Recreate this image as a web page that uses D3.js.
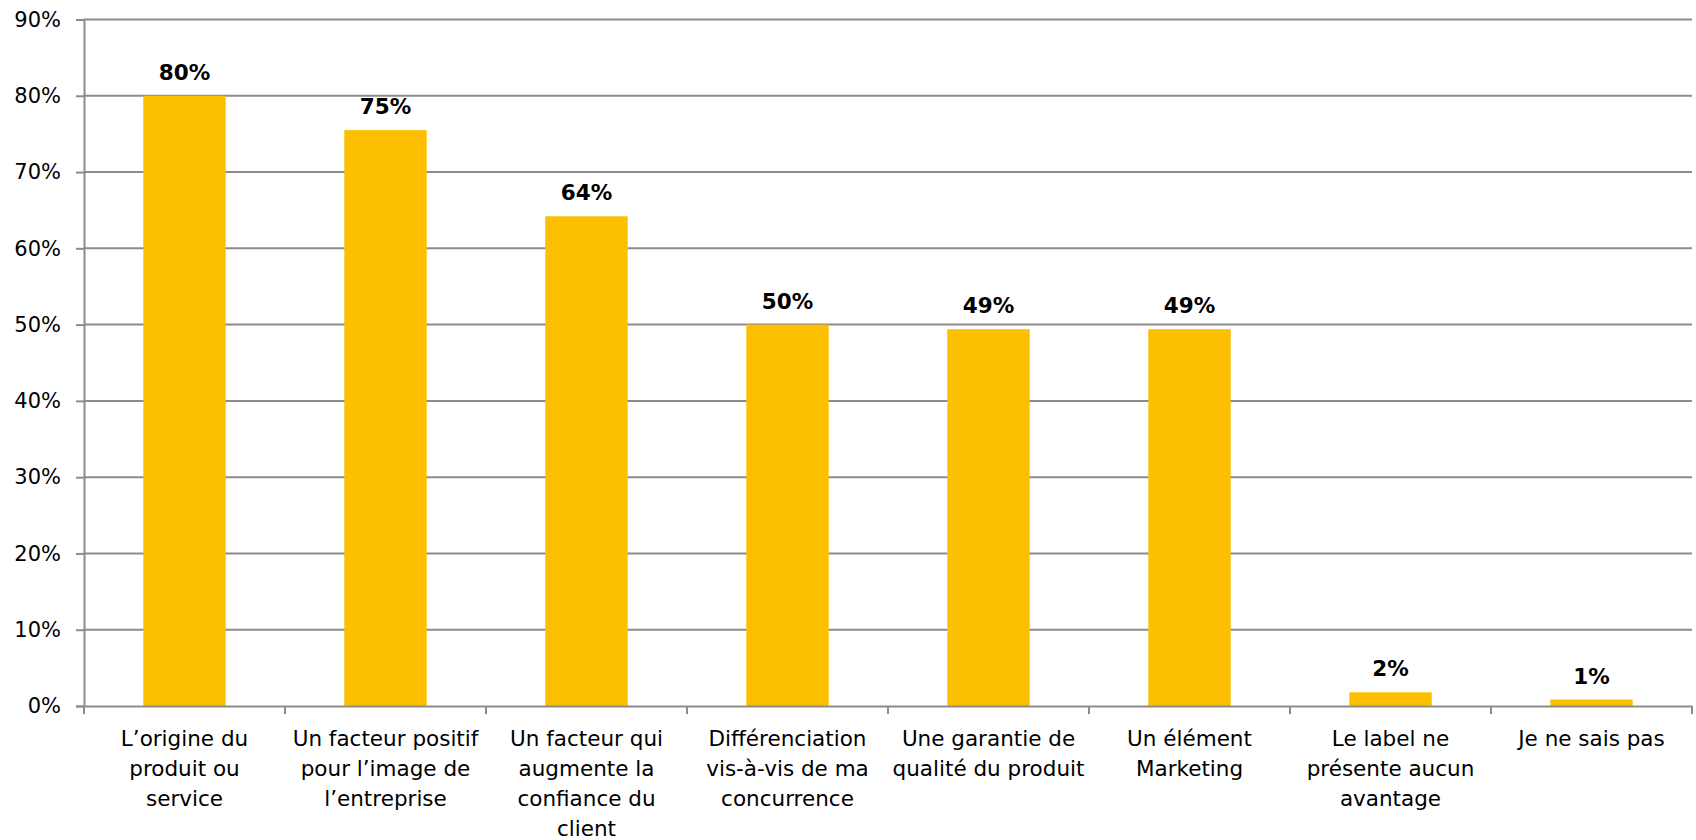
<!DOCTYPE html>
<html><head><meta charset="utf-8">
<script src="https://cdn.jsdelivr.net/npm/d3@7"></script>
<style>body{margin:0;background:#fff}svg{display:block}</style>
</head><body>
<svg id="c" width="1696" height="840"></svg>
<script>
const categories = [
  "L\u2019origine du\nproduit ou\nservice",
  "Un facteur positif\npour l\u2019image de\nl\u2019entreprise",
  "Un facteur qui\naugmente la\nconfiance du\nclient",
  "Différenciation\nvis-à-vis de ma\nconcurrence",
  "Une garantie de\nqualité du produit",
  "Un élément\nMarketing",
  "Le label ne\nprésente aucun\navantage",
  "Je ne sais pas"
];
const values = [80, 75.5, 64.2, 50, 49.4, 49.4, 1.8, 0.85];
const valueLabels = ["80%", "75%", "64%", "50%", "49%", "49%", "2%", "1%"];
const yTicks = [0, 10, 20, 30, 40, 50, 60, 70, 80, 90];

(function () {
const svg = d3.select("#c");
const mLeft = 84, mRight = 1692, mTop = 19.5, mBottom = 706;
const font = "DejaVu Sans, Verdana, sans-serif";
const x = d3.scaleBand().domain(d3.range(categories.length)).range([mLeft, mRight]).paddingInner(0.59).paddingOuter(0.295);
const xb = d3.scaleBand().domain(d3.range(categories.length)).range([mLeft, mRight]).padding(0);
const y = d3.scaleLinear().domain([0, 90]).range([mBottom, mTop]);
const grid = "#8c8c8c";

svg.append("g").selectAll("line").data(yTicks.slice(1)).join("line")
  .attr("x1", mLeft).attr("x2", mRight)
  .attr("y1", d => y(d)).attr("y2", d => y(d))
  .attr("stroke", grid).attr("stroke-width", 2);

const ya = svg.append("g").attr("transform", `translate(${mLeft},0)`)
  .call(d3.axisLeft(y).tickValues(yTicks).tickFormat(d => d + "%").tickSize(8).tickPadding(15));
ya.select(".domain").attr("stroke", grid).attr("stroke-width", 2);
ya.selectAll(".tick line").attr("stroke", grid).attr("stroke-width", 2);
ya.selectAll(".tick text").attr("font-family", font).attr("font-size", 21).attr("fill", "#000");

svg.append("g").selectAll("rect").data(values).join("rect")
  .attr("x", (d, i) => x(i)).attr("width", x.bandwidth())
  .attr("y", d => y(d)).attr("height", d => mBottom - y(d))
  .attr("fill", "#FCC000");

const xa = svg.append("g").attr("transform", `translate(0,${mBottom})`)
  .call(d3.axisBottom(xb).tickSize(0).tickFormat(""));
xa.select(".domain").attr("stroke", grid).attr("stroke-width", 2);
xa.selectAll(".tick").remove();
svg.append("g").selectAll("line").data(d3.range(categories.length + 1)).join("line")
  .attr("x1", i => mLeft + i * xb.step()).attr("x2", i => mLeft + i * xb.step())
  .attr("y1", mBottom).attr("y2", mBottom + 8)
  .attr("stroke", grid).attr("stroke-width", 2);

const cl = svg.append("g").selectAll("text").data(categories).join("text")
  .attr("x", (d, i) => xb(i) + xb.bandwidth() / 2)
  .attr("y", 747)
  .attr("text-anchor", "middle")
  .attr("font-family", font).attr("font-size", 21.5).attr("fill", "#000");
cl.each(function (d) {
  const t = d3.select(this);
  d.split("\n").forEach((line, k) => {
    t.append("tspan").attr("x", t.attr("x")).attr("y", 746 + k * 30).text(line);
  });
});

svg.append("g").selectAll("text").data(values).join("text")
  .attr("x", (d, i) => x(i) + x.bandwidth() / 2)
  .attr("y", d => y(d) - 16)
  .attr("text-anchor", "middle")
  .attr("font-family", font).attr("font-weight", "bold").attr("font-size", 21.5).attr("fill", "#000")
  .text((d, i) => valueLabels[i]);
})();
</script>
</body></html>
